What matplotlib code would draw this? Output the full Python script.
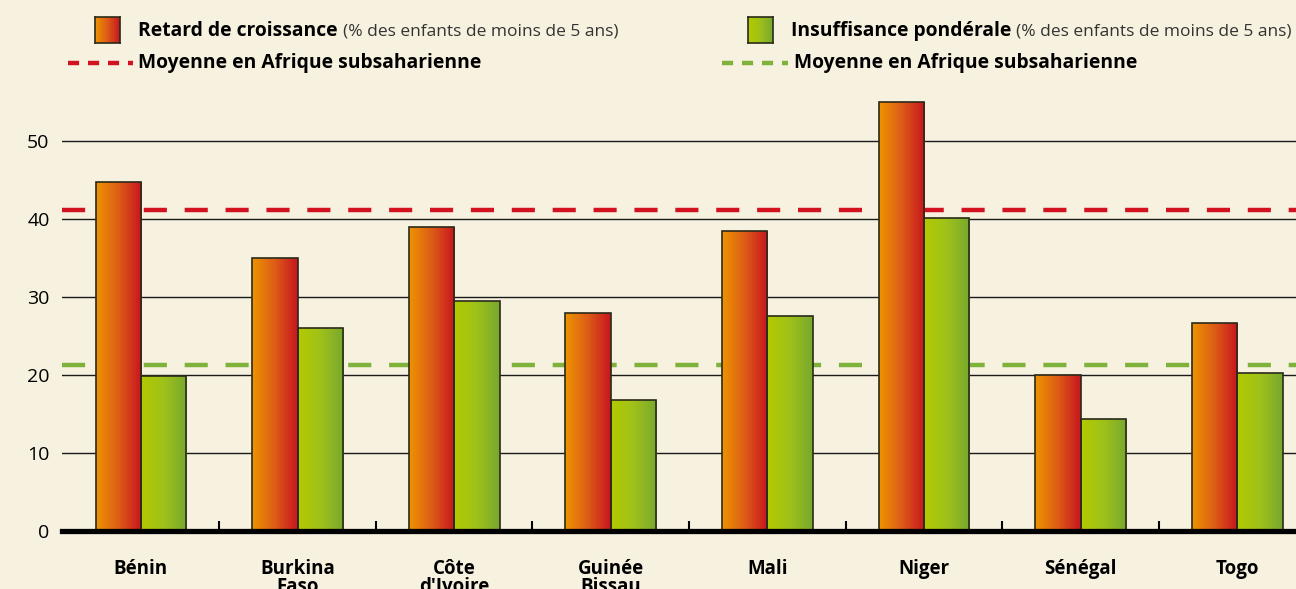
import numpy as np
import matplotlib
matplotlib.use("Agg")
import matplotlib.pyplot as plt
from matplotlib.colors import LinearSegmentedColormap
from matplotlib.lines import Line2D

countries = ["Bénin", "Burkina\nFaso", "Côte\nd'Ivoire", "Guinée\nBissau",
             "Mali", "Niger", "Sénégal", "Togo"]
retard = [44.7, 35.0, 38.9, 27.9, 38.4, 55.0, 20.0, 26.7]
insuff = [19.8, 26.0, 29.4, 16.8, 27.6, 40.1, 14.3, 20.2]
moy_retard = 41.1
moy_insuff = 21.2
yticks = [0, 10, 20, 30, 40, 50]

BG = "#F7F2DF"
RED_LINE = "#D2121F"
GREEN_LINE = "#7FB23A"
cmap_red = LinearSegmentedColormap.from_list("r", ["#EE9400", "#DC5C17", "#C8141F"])
cmap_green = LinearSegmentedColormap.from_list("g", ["#B4CA00", "#9EC11A", "#78A82E"])

FONT = ["Open Sans", "DejaVu Sans"]
plt.rcParams["font.family"] = FONT

fig = plt.figure(figsize=(12.96, 5.89), dpi=100, facecolor=BG)
ax = fig.add_axes([62/1296, 58/589, 1 - 62/1296, 445/589])
ax.set_facecolor(BG)

x = np.arange(len(countries))
w = 0.29
grad = np.linspace(0, 1, 256).reshape(1, -1)

ax.axhline(moy_retard, color=RED_LINE, lw=3.2, dashes=(5.2, 4.0), zorder=1)
ax.axhline(moy_insuff, color=GREEN_LINE, lw=3.2, dashes=(5.2, 4.0), zorder=1)

for vals, off, cmap in [(retard, -w/2, cmap_red), (insuff, w/2, cmap_green)]:
    bars = ax.bar(x + off, vals, width=w, facecolor="none", edgecolor="#2a2a1a",
                  linewidth=1.2, zorder=3)
    for r in bars:
        bx, by, bw, bh = r.get_x(), r.get_y(), r.get_width(), r.get_height()
        im = ax.imshow(grad, cmap=cmap, extent=[bx, bx + bw, by, by + bh],
                       aspect="auto", zorder=2, interpolation="bilinear")
        im.set_clip_path(r)

ax.set_xlim(-0.504, 7.375)
ax.set_ylim(0, 57)
ax.set_yticks(yticks)
ax.set_yticklabels([str(v) for v in yticks], fontsize=14)
ax.yaxis.grid(True, color="#1a1a1a", lw=1.0, zorder=0)
ax.set_axisbelow(True)
ax.tick_params(axis="y", length=0, pad=9)

ax.set_xticks(x)
ax.set_xticklabels(countries, fontsize=13.5, fontweight="bold", linespacing=0.85,
                   va="top")
ax.tick_params(axis="x", which="major", length=0, pad=20)
ax.set_xticks(x[:-1] + 0.5, minor=True)
ax.tick_params(axis="x", which="minor", direction="in", length=7, width=1.5,
               color="black")

for s in ["top", "right", "left"]:
    ax.spines[s].set_visible(False)
ax.spines["bottom"].set_linewidth(3.8)
ax.spines["bottom"].set_color("black")
ax.spines["bottom"].set_zorder(4)

# Legend
def legend_square(x0, y0, cmap):
    lax = fig.add_axes([x0/1296, 1 - (y0 + 26)/589, 25/1296, 26/589])
    lax.imshow(grad, cmap=cmap, aspect="auto", interpolation="bilinear")
    lax.set_xticks([]); lax.set_yticks([])
    for sp in lax.spines.values():
        sp.set_color("#2a2a1a"); sp.set_linewidth(1.2)

legend_square(95, 17, cmap_red)
legend_square(748, 17, cmap_green)

def fy(py):
    return 1 - py/589

for x0, title in [(138, "Retard de croissance"), (791, "Insuffisance pondérale")]:
    t = fig.text(x0/1296, fy(31), title, fontsize=13.9, fontweight="bold",
                 va="center", ha="left", color="black")
    fig.canvas.draw()
    bb = t.get_window_extent()
    fig.text((bb.x1 + 5)/1296, fy(31), "(% des enfants de moins de 5 ans)",
             fontsize=12.5, va="center", ha="left", color="#333333")

for (x0, x1, tx, col) in [(68, 133, 138, RED_LINE), (722, 788, 794, GREEN_LINE)]:
    fig.add_artist(Line2D([x0/1296, x1/1296], [fy(63), fy(63)], color=col,
                          lw=3.2, dashes=(2.5, 2.0), transform=fig.transFigure))
    fig.text(tx/1296, fy(63), "Moyenne en Afrique subsaharienne", fontsize=13.9,
             fontweight="bold", va="center", ha="left", color="black")

fig.savefig("out.png", dpi=100, facecolor=BG)
